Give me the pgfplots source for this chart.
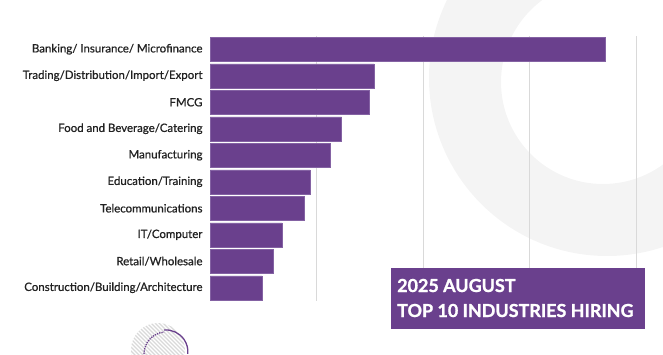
\documentclass[border=0pt]{standalone}
\usepackage{pgfplots}
\pgfplotsset{compat=1.18}
\usepackage{fontspec}
\setmainfont{Lato}
\newfontfamily\labelfont{Lato}[FakeBold=0.8]
\newfontfamily\titlefont{Lato}[BoldFeatures={FakeBold=1.2}]
\definecolor{barpurple}{HTML}{6A408D}
\definecolor{baredge}{HTML}{8462A3}
\definecolor{ringgray}{HTML}{F4F4F4}
\definecolor{gridgray}{HTML}{D9D9D9}
\definecolor{labelcol}{HTML}{222222}
\begin{document}
\begin{tikzpicture}[x=1bp,y=1bp]
\path[use as bounding box] (0,0) rectangle (663,354);
\begin{scope}
\clip (0,0) rectangle (663,354);
% background ring
\fill[ringgray, even odd rule] (607,276) circle (178) (603,272) circle (102);
% hatched circle bottom-left
\begin{scope}
\clip (158,4) circle (27);
\foreach \k in {-80,-76,...,80} {
  \draw[gridgray, line width=1.2bp] (158+\k-40,4+40) -- (158+\k+40,4-40);
}
\end{scope}
\draw[barpurple, line width=1.3bp, densely dotted] (144,0) arc[start angle=180, end angle=95, radius=22];
\draw[barpurple, line width=1.3bp] (164,24) arc[start angle=95, end angle=-5, radius=22];
\end{scope}
\pgfplotstableread{
idx value
0 370.9
1 153.8
2 149.6
3 123.7
4 112.7
5 93.9
6 88.5
7 67.6
8 59.4
9 48.8
}\industries
\begin{axis}[
  at={(210bp,53bp)}, anchor=south west,
  scale only axis, width=426bp, height=265bp,
  xbar, bar width=24bp,
  xmin=0, xmax=400,
  ymin=-0.5, ymax=9.5, y dir=reverse,
  axis line style={draw=none},
  xmajorgrids, xtick={100,200,300,400}, xticklabels={},
  major grid style={gridgray, line width=1bp},
  ytick={0,...,9},
  yticklabels={Banking/ Insurance/ Microfinance,Trading/Distribution/Import/Export,FMCG,Food and Beverage/Catering,Manufacturing,Education/Training,Telecommunications,IT/Computer,Retail/Wholesale,Construction/Building/Architecture},
  yticklabel style={font=\labelfont\fontsize{11.5}{13}\selectfont, text=labelcol, xshift=-4bp},
  major tick length=0pt, tick style={draw=none},
  clip=false,
]
\addplot[fill=barpurple, draw=baredge, line width=0.5bp] table[x=value, y=idx] {\industries};
\end{axis}
% title box
\fill[barpurple] (391,25) rectangle (645,86);
\node[anchor=base west, text=white, font=\titlefont\fontsize{18}{20}\selectfont\bfseries, inner sep=0] at (397,62) {2025 AUGUST};
\node[anchor=base west, text=white, font=\titlefont\fontsize{18}{20}\selectfont\bfseries, inner sep=0] at (397,37) {TOP 10 INDUSTRIES HIRING};
\end{tikzpicture}
\end{document}
